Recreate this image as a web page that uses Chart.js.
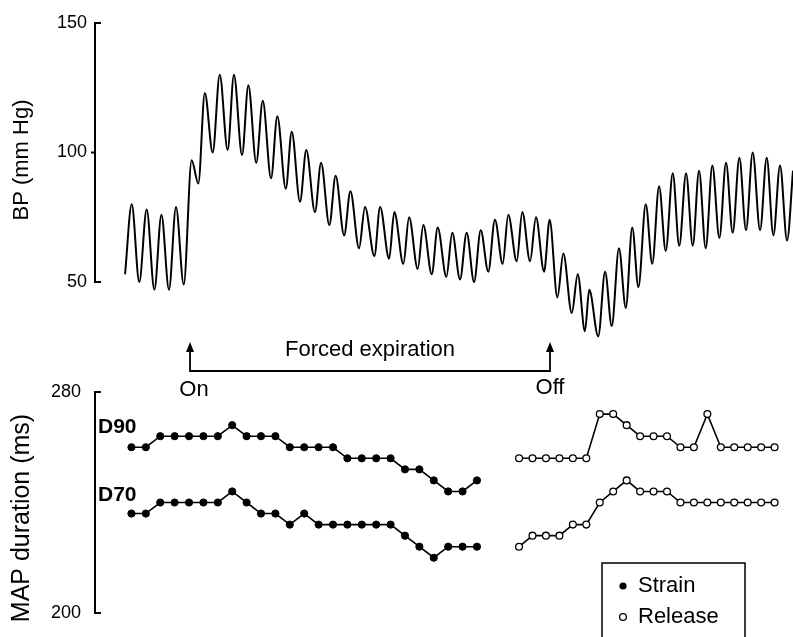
<!DOCTYPE html>
<html>
<head>
<meta charset="utf-8">
<script src="https://cdn.jsdelivr.net/npm/chart.js@4.4.0/dist/chart.umd.min.js"></script>
<style>
  html, body { margin: 0; padding: 0; background: #fff; }
  #wrap { position: relative; width: 793px; height: 637px; }
  canvas { position: absolute; left: 0; top: 0; }
</style>
</head>
<body>
<div id="wrap">
  <canvas id="bpChart" width="793" height="637"></canvas>
  <canvas id="mapChart" width="793" height="637"></canvas>
</div>
<script>
// time in seconds, 0 = start of forced expiration
const onTime = 0;
const offTime = 20;

const bpTime = [-3.61,-3.24,-2.82,-2.41,-1.98,-1.59,-1.17,-0.78,-0.35,0.09,0.46,0.82,1.26,1.65,2.09,2.44,2.89,3.24,3.68,4.04,4.5,4.85,5.32,5.65,6.11,6.46,6.94,7.28,7.74,8.09,8.56,8.91,9.39,9.72,10.24,10.56,11.06,11.35,11.85,12.17,12.65,12.96,13.43,13.76,14.24,14.57,15.0,15.37,15.78,16.15,16.57,16.94,17.37,17.68,18.15,18.46,18.89,19.22,19.67,19.98,20.41,20.74,21.21,21.54,21.94,22.18,22.68,23.06,23.43,23.83,24.21,24.57,24.91,25.32,25.68,26.06,26.43,26.82,27.18,27.56,27.93,28.28,28.65,29.02,29.41,29.78,30.15,30.52,30.89,31.26,31.67,32.04,32.41,32.78,33.17,33.5];
const bpValue = [53,80,50,78,47,76,47,79,49,97,88,123,100,130,101,130,99,126,96,120,90,114,86,108,81,101,77,96,72,91,68,85,63,79,60,79,59,77,57,75,55,72,53,71,52,69,51,69,50,70,54,74,57,76,58,77,58,75,54,74,44,61,38,53,31,47,29,54,33,63,40,71,48,80,57,87,62,92,64,92,64,93,63,95,67,96,69,98,70,100,70,98,68,95,66,93];
const bpTicks = [50, 100, 150];

// MAP duration (ms), beat by beat
const strainStart = -3.24, strainBeat = 0.806;
const releaseStart = 18.46, releaseBeat = 0.753;
const d90Strain = [260,260,264,264,264,264,264,268,264,264,264,260,260,260,260,256,256,256,256,252,252,248,244,244,248];
const d70Strain = [236,236,240,240,240,240,240,244,240,236,236,232,236,232,232,232,232,232,232,228,224,220,224,224,224];
const d90Release = [256,256,256,256,256,256,272,272,268,264,264,264,260,260,272,260,260,260,260,260];
const d70Release = [224,228,228,228,232,232,240,244,248,244,244,244,240,240,240,240,240,240,240,240];
const mapTicks = [200, 280];

const FONT = '"Liberation Sans", Arial, Helvetica, sans-serif';
Chart.defaults.font.family = FONT;
Chart.defaults.color = '#000';

function beats(values, start, step) {
  return values.map((v, i) => ({ x: start + i * step, y: v }));
}

const xAxis = { type: 'linear', display: false, min: -5.28, max: 33.5 };

function yAxis(tickList, tickPad, midTick) {
  return {
    min: tickList[0], max: tickList[tickList.length - 1],
    afterFit: s => { s.width = 95; },
    afterBuildTicks: s => { s.ticks = tickList.map(v => ({ value: v })); },
    ticks: { font: { size: 18 }, color: '#000', padding: tickPad },
    grid: {
      drawOnChartArea: false, drawTicks: true, tickLength: 4, tickWidth: 2,
      color: c => (c.tick && c.tick.value === midTick) ? '#000' : 'rgba(0,0,0,0)'
    },
    border: { display: true, color: '#000', width: 2 }
  };
}

function bracketEnds(ctx, chart, scale, vals) {
  const ax = chart.chartArea.left;
  ctx.strokeStyle = '#000';
  ctx.lineWidth = 2;
  vals.forEach(v => {
    const py = scale.getPixelForValue(v);
    ctx.beginPath();
    ctx.moveTo(ax - 1, py);
    ctx.lineTo(ax + 6, py);
    ctx.stroke();
  });
}

function vTitle(ctx, text, cx, cy, size) {
  ctx.save();
  ctx.translate(cx, cy);
  ctx.rotate(-Math.PI / 2);
  ctx.font = size + 'px ' + FONT;
  ctx.fillStyle = '#000';
  ctx.textAlign = 'center';
  ctx.textBaseline = 'middle';
  ctx.fillText(text, 0, 0);
  ctx.restore();
}

function arrowHead(ctx, x, tipY) {
  ctx.beginPath();
  ctx.moveTo(x, tipY);
  ctx.lineTo(x - 4, tipY + 10);
  ctx.lineTo(x + 4, tipY + 10);
  ctx.closePath();
  ctx.fill();
}

const bpDecor = {
  id: 'bpDecor',
  afterDraw(chart) {
    const { ctx, scales: { x, y } } = chart;
    ctx.save();
    bracketEnds(ctx, chart, y, [bpTicks[0], bpTicks[bpTicks.length - 1]]);
    vTitle(ctx, 'BP (mm Hg)', 22, 160, 22);

    // forced expiration marker
    const xOn = x.getPixelForValue(onTime);
    const xOff = x.getPixelForValue(offTime);
    const lineY = 371, tipY = 342;
    ctx.strokeStyle = '#000';
    ctx.fillStyle = '#000';
    ctx.lineWidth = 1.8;
    ctx.beginPath();
    ctx.moveTo(xOn, tipY + 6);
    ctx.lineTo(xOn, lineY);
    ctx.lineTo(xOff, lineY);
    ctx.lineTo(xOff, tipY + 6);
    ctx.stroke();
    arrowHead(ctx, xOn, tipY);
    arrowHead(ctx, xOff, tipY);

    ctx.font = '22px ' + FONT;
    ctx.textBaseline = 'middle';
    ctx.textAlign = 'center';
    ctx.fillText('Forced expiration', (xOn + xOff) / 2, 350);
    ctx.fillText('On', xOn + 4, 390);
    ctx.fillText('Off', xOff, 388);
    ctx.restore();
  }
};

const mapDecor = {
  id: 'mapDecor',
  afterDraw(chart) {
    const { ctx, scales: { y } } = chart;
    ctx.save();
    bracketEnds(ctx, chart, y, mapTicks);
    vTitle(ctx, 'MAP duration (ms)', 22, 518, 25);

    ctx.fillStyle = '#000';
    ctx.font = 'bold 21px ' + FONT;
    ctx.textAlign = 'left';
    ctx.textBaseline = 'middle';
    ctx.fillText('D90', 98, 427);
    ctx.fillText('D70', 98, 495);

    // legend box (runs off the bottom edge)
    ctx.strokeStyle = '#000';
    ctx.lineWidth = 1.5;
    ctx.beginPath();
    ctx.moveTo(602, 645);
    ctx.lineTo(602, 563);
    ctx.lineTo(745, 563);
    ctx.lineTo(745, 645);
    ctx.stroke();

    ctx.beginPath();
    ctx.arc(623, 586, 3.6, 0, Math.PI * 2);
    ctx.fill();
    ctx.beginPath();
    ctx.fillStyle = '#fff';
    ctx.lineWidth = 1.3;
    ctx.arc(623, 617, 3.4, 0, Math.PI * 2);
    ctx.fill();
    ctx.stroke();

    ctx.fillStyle = '#000';
    ctx.font = '22px ' + FONT;
    ctx.fillText('Strain', 638, 586);
    ctx.fillText('Release', 638, 617);
    ctx.restore();
  }
};

new Chart(document.getElementById('bpChart'), {
  type: 'line',
  data: {
    datasets: [{
      label: 'BP',
      data: bpTime.map((t, i) => ({ x: t, y: bpValue[i] })),
      borderColor: '#000',
      borderWidth: 2,
      pointRadius: 0,
      cubicInterpolationMode: 'monotone',
      clip: false
    }]
  },
  options: {
    responsive: false,
    animation: false,
    devicePixelRatio: 1,
    layout: { padding: { top: 23, bottom: 355, left: 0, right: 0 } },
    plugins: { legend: { display: false }, tooltip: { enabled: false } },
    scales: { x: xAxis, y: yAxis(bpTicks, 4, 100) }
  },
  plugins: [bpDecor]
});

const strainStyle = {
  borderColor: '#000', borderWidth: 1.6,
  pointRadius: 3.6, pointBackgroundColor: '#000', pointBorderColor: '#000', pointBorderWidth: 1
};
const releaseStyle = {
  borderColor: '#000', borderWidth: 1.6,
  pointRadius: 3.4, pointBackgroundColor: '#fff', pointBorderColor: '#000', pointBorderWidth: 1.3
};

new Chart(document.getElementById('mapChart'), {
  type: 'line',
  data: {
    datasets: [
      Object.assign({ label: 'D90 strain', data: beats(d90Strain, strainStart, strainBeat) }, strainStyle),
      Object.assign({ label: 'D70 strain', data: beats(d70Strain, strainStart, strainBeat) }, strainStyle),
      Object.assign({ label: 'D90 release', data: beats(d90Release, releaseStart, releaseBeat) }, releaseStyle),
      Object.assign({ label: 'D70 release', data: beats(d70Release, releaseStart, releaseBeat) }, releaseStyle)
    ]
  },
  options: {
    responsive: false,
    animation: false,
    devicePixelRatio: 1,
    layout: { padding: { top: 392, bottom: 24, left: 0, right: 0 } },
    plugins: { legend: { display: false }, tooltip: { enabled: false } },
    scales: { x: xAxis, y: yAxis(mapTicks, 10, null) }
  },
  plugins: [mapDecor]
});
</script>
</body>
</html>
